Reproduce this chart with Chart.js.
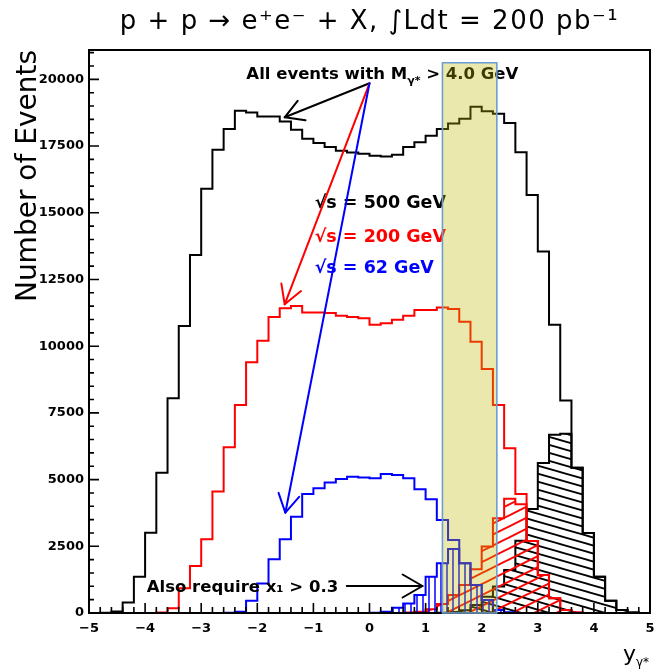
<!DOCTYPE html>
<html><head><meta charset="utf-8">
<script src="https://cdn.jsdelivr.net/npm/chart.js@4.4.1/dist/chart.umd.min.js"></script>
<style>html,body{margin:0;padding:0;background:#fff}canvas{display:block}</style>
</head><body>
<canvas id="c" width="654" height="672"></canvas>
<script>
// ---- data (bin edges of y_gamma*, counts per bin) ----
const binEdges = [-5.0,-4.8,-4.6,-4.4,-4.2,-4.0,-3.8,-3.6,-3.4,-3.2,-3.0,-2.8,-2.6,-2.4,-2.2,-2.0,-1.8,-1.6,-1.4,-1.2,-1.0,-0.8,-0.6,-0.4,-0.2,0.0,0.2,0.4,0.6,0.8,1.0,1.2,1.4,1.6,1.8,2.0,2.2,2.4,2.6,2.8,3.0,3.2,3.4,3.6,3.8,4.0,4.2,4.4,4.6,4.8,5.0];
const all500 = [0,10,60,390,1360,3010,5260,8050,10760,13420,15900,17360,18140,18820,18760,18610,18610,18420,18110,17770,17610,17460,17320,17260,17210,17140,17110,17170,17460,17640,17890,18140,18350,18520,18970,18800,18710,18360,17270,15670,13550,10800,7960,5440,3000,1360,460,110,20,0];
const all200 = [0,0,0,0,0,0,20,175,925,1760,2760,4550,6210,7800,9400,10200,11090,11420,11510,11260,11260,11240,11140,11090,11050,10800,10860,10990,11140,11360,11360,11450,11390,10920,10170,9140,7800,6170,4460,2700,1425,550,110,20,0,0,0,0,0,0];
const all62  = [0,0,0,0,0,0,0,0,0,0,0,0,10,50,460,1110,2010,2760,3610,4460,4675,4890,5025,5110,5075,5050,5210,5175,5050,4640,4260,3490,2740,1860,1050,490,110,20,0,0,0,0,0,0,0,0,0,0,0,0];
const cut500 = [0,0,0,0,0,0,0,0,0,0,0,0,0,0,0,0,0,0,0,0,0,0,0,0,0,0,0,0,0,0,0,10,40,100,300,610,990,1610,2710,3900,5620,6680,6720,5440,3000,1360,460,110,20,0];
const cut200 = [0,0,0,0,0,0,0,0,0,0,0,0,0,0,0,0,0,0,0,0,0,0,0,0,0,0,0,0,20,50,140,340,675,1050,1640,2490,3550,4280,4080,2700,1425,550,110,20,0,0,0,0,0,0];
const cut62  = [0,0,0,0,0,0,0,0,0,0,0,0,0,0,0,0,0,0,0,0,0,0,0,0,0,10,50,200,360,675,1360,1860,2400,1860,1050,490,110,20,0,0,0,0,0,0,0,0,0,0,0,0];
const xTickValues = [-5,-4,-3,-2,-1,0,1,2,3,4,5];
const yTickValues = [0,2500,5000,7500,10000,12500,15000,17500,20000];

// ---- texts ----
const titleText = 'p + p \u2192 e\u207Ae\u207B + X, \u222BLdt = 200 pb\u207B\u00B9';
const yAxisTitle = 'Number of Events';
const xAxisTitle = 'y';
const xAxisTitleSub = '\u03B3*';
const energyLabels = ['\u221As = 500 GeV', '\u221As = 200 GeV', '\u221As = 62 GeV'];

// ---- annotation placement (data units) ----
const ann = {
  allText: {x: -2.195, y: 20013},
  sqrtX: -0.977, sqrtY: [15167, 13916, 12731],
  origin: {x: 0.0, y: 19853},
  tips: [{x: -1.512, y: 18578}, {x: -1.512, y: 11570}, {x: -1.50, y: 3759}],
  alsoText: {x: -3.97, y: 798},
  alsoArrow: {x1: -0.406, x2: 0.945, y: 1012},
  band: {x1: 1.30, x2: 2.27, y1: 0, y2: 20620}
};
const colors = ['#000000', '#ff0000', '#0000ff'];

function histPoints(values) {
  const pts = [{x: binEdges[0], y: 0}];
  values.forEach((v, i) => pts.push({x: binEdges[i], y: v}));
  pts.push({x: binEdges[binEdges.length - 1], y: 0});
  return pts;
}
function hatch(color, w, h, dir, lw) {
  const c = document.createElement('canvas'); c.width = w; c.height = h;
  const g = c.getContext('2d'); g.strokeStyle = color; g.lineWidth = lw;
  g.beginPath();
  if (dir === 'v') { g.moveTo(w / 2, 0); g.lineTo(w / 2, h); }
  else {
    for (let k = -1; k <= 1; k++) {
      if (dir === 'down') { g.moveTo(-w, -h + k * h); g.lineTo(2 * w, 2 * h + k * h); }
      else { g.moveTo(-w, 2 * h + k * h); g.lineTo(2 * w, -h + k * h); }
    }
  }
  g.stroke();
  return g.createPattern(c, 'repeat');
}
const pctx = document.getElementById('c').getContext('2d');

function ds(values, color, order, pattern) {
  return {
    data: histPoints(values), borderColor: color, borderWidth: 2, stepped: 'before',
    pointRadius: 0, fill: pattern ? 'origin' : false, backgroundColor: pattern || 'transparent',
    order: order, clip: 6, tension: 0
  };
}

function arrow(ctx, x1, y1, x2, y2, color, head, ang) {
  ctx.strokeStyle = color; ctx.lineWidth = 2; ctx.lineCap = 'round'; ctx.lineJoin = 'round';
  ctx.beginPath(); ctx.moveTo(x1, y1); ctx.lineTo(x2, y2); ctx.stroke();
  const a = Math.atan2(y1 - y2, x1 - x2);
  ctx.beginPath();
  ctx.moveTo(x2 + head * Math.cos(a + ang), y2 + head * Math.sin(a + ang));
  ctx.lineTo(x2, y2);
  ctx.lineTo(x2 + head * Math.cos(a - ang), y2 + head * Math.sin(a - ang));
  ctx.stroke();
}

const decor = {
  id: 'decor',
  beforeDraw(chart) {
    const tb = chart.titleBlock;
    if (tb && !tb._spaced) {
      const orig = tb.draw;
      tb.draw = function () { const c = this.ctx; c.save(); try { c.letterSpacing = '1.5px'; } catch (e) {} orig.apply(this, arguments); c.restore(); };
      tb._spaced = true;
    }
  },
  afterDraw(chart) {
    const ctx = chart.ctx, xs = chart.scales.x, ys = chart.scales.y, a = chart.chartArea;
    const X = v => xs.getPixelForValue(v), Y = v => ys.getPixelForValue(v);
    ctx.save();
    // frame
    ctx.strokeStyle = '#000'; ctx.lineWidth = 2;
    ctx.strokeRect(a.left, a.top, a.right - a.left, a.bottom - a.top);
    // ticks (inside)
    ctx.lineWidth = 1.6; ctx.beginPath();
    for (let k = 0; k <= 42; k++) {
      const v = k * 500, py = Y(v); if (py < a.top) break;
      const len = (v % 2500 === 0) ? 10 : 5;
      ctx.moveTo(a.left, py); ctx.lineTo(a.left + len, py);
    }
    for (let k = 0; k <= 50; k++) {
      const v = -5 + k * 0.2, px = X(v);
      const len = (k % 5 === 0) ? 10 : 6;
      ctx.moveTo(px, a.bottom); ctx.lineTo(px, a.bottom - len);
    }
    ctx.stroke();
    // annotation texts
    ctx.textAlign = 'left'; ctx.textBaseline = 'alphabetic';
    ctx.fillStyle = '#000';
    let cx = X(ann.allText.x); const by = Y(ann.allText.y);
    ctx.font = 'bold 16.5px "DejaVu Sans"'; ctx.fillText('All events with M', cx, by); cx += ctx.measureText('All events with M').width;
    ctx.font = 'bold 11px "DejaVu Sans"'; ctx.fillText('\u03B3*', cx, by + 5); cx += ctx.measureText('\u03B3*').width;
    ctx.font = 'bold 16.5px "DejaVu Sans"'; ctx.fillText(' > 4.0 GeV', cx, by);
    ctx.font = 'bold 17.5px "DejaVu Sans"';
    energyLabels.forEach((t, i) => { ctx.fillStyle = colors[i]; ctx.fillText(t, X(ann.sqrtX), Y(ann.sqrtY[i])); });
    ctx.fillStyle = '#000'; ctx.font = 'bold 16.5px "DejaVu Sans"';
    ctx.fillText('Also require x\u2081 > 0.3', X(ann.alsoText.x), Y(ann.alsoText.y));
    // arrows
    ann.tips.forEach((t, i) => arrow(ctx, X(ann.origin.x), Y(ann.origin.y), X(t.x), Y(t.y), colors[i], 21, Math.PI / 6));
    arrow(ctx, X(ann.alsoArrow.x1), Y(ann.alsoArrow.y), X(ann.alsoArrow.x2), Y(ann.alsoArrow.y), '#000', 23, Math.PI / 6);
    // x-axis title
    ctx.fillStyle = '#000'; ctx.font = '22px "DejaVu Sans"';
    const w1 = ctx.measureText(xAxisTitle).width;
    ctx.font = '12px "DejaVu Sans"'; const w2 = ctx.measureText(xAxisTitleSub).width;
    const xt = a.right - w1 - w2 - 1;
    ctx.font = '22px "DejaVu Sans"'; ctx.fillText(xAxisTitle, xt, 661);
    ctx.font = '12px "DejaVu Sans"'; ctx.fillText(xAxisTitleSub, xt + w1, 666);
    // highlighted band
    const bx1 = X(ann.band.x1), bx2 = X(ann.band.x2), by1 = Y(ann.band.y2), by2 = Y(ann.band.y1);
    ctx.fillStyle = 'rgba(190,184,0,0.32)';
    ctx.fillRect(bx1, by1, bx2 - bx1, by2 - by1);
    ctx.strokeStyle = 'rgb(108,158,212)'; ctx.lineWidth = 1.6;
    ctx.strokeRect(bx1, by1, bx2 - bx1, by2 - by1);
    ctx.restore();
  }
};

Chart.defaults.font.family = '"DejaVu Sans"';
new Chart(pctx, {
  type: 'line',
  data: {
    datasets: [
      ds(all500, colors[0], 6),
      ds(cut500, colors[0], 5, hatch('#000', 28, 8, 'down', 1.8)),
      ds(all200, colors[1], 4),
      ds(cut200, colors[1], 3, hatch('#ff0000', 22, 11, 'up', 2)),
      ds(all62, colors[2], 2),
      ds(cut62, colors[2], 1, hatch('#0000ff', 6, 6, 'v', 1.5))
    ]
  },
  options: {
    responsive: false, animation: false, devicePixelRatio: 1,
    layout: {padding: {left: 0, right: 4, top: 0, bottom: 0}},
    plugins: {
      legend: {display: false}, tooltip: {enabled: false},
      title: {display: true, text: titleText, fullSize: false, color: '#000',
        font: {family: '"DejaVu Sans"', size: 26, weight: 'normal', lineHeight: 1.1},
        padding: {top: 8, bottom: 13.4}}
    },
    scales: {
      x: {
        type: 'linear', min: -5, max: 5,
        afterBuildTicks: s => { s.ticks = xTickValues.map(v => ({value: v})); },
        afterFit: s => { s.height = 59; s.paddingLeft = 0; s.paddingRight = 0; },
        grid: {display: false, drawTicks: false}, border: {display: false},
        ticks: {color: '#000', padding: 8, maxRotation: 0, autoSkip: false,
          font: {family: '"DejaVu Sans"', size: 13, weight: 'bold'},
          callback: v => (v < 0 ? '\u2212' + Math.abs(v) : String(v))}
      },
      y: {
        type: 'linear', min: 0, max: 21100,
        afterBuildTicks: s => { s.ticks = yTickValues.map(v => ({value: v})); },
        afterFit: s => { s.width = 89; s.paddingTop = 0; s.paddingBottom = 0; },
        grid: {display: false, drawTicks: false}, border: {display: false},
        title: {display: true, text: yAxisTitle, align: 'end', color: '#000',
          font: {family: '"DejaVu Sans"', size: 28, weight: 'normal', lineHeight: 1.2},
          padding: {top: 11.5, bottom: 0}},
        ticks: {color: '#000', padding: 5, autoSkip: false,
          font: {family: '"DejaVu Sans"', size: 13, weight: 'bold'},
          callback: v => String(v)}
      }
    }
  },
  plugins: [decor]
});
</script>
</body></html>
